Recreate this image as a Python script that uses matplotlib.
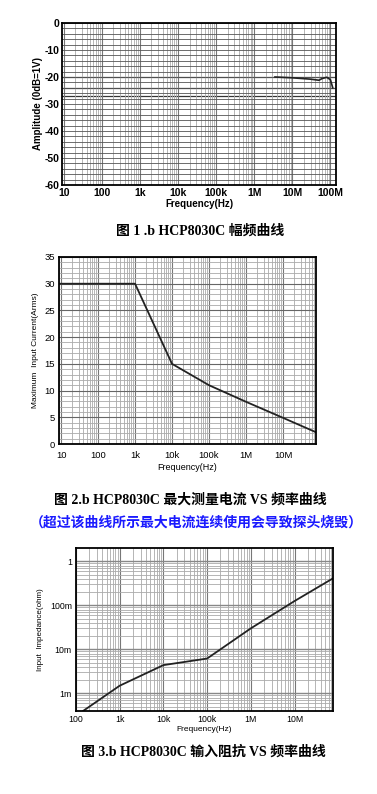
import numpy as np
import matplotlib.pyplot as plt
from matplotlib.ticker import FixedLocator, NullFormatter, MultipleLocator

plt.rcParams['font.family'] = ['Liberation Sans', 'DejaVu Sans']
plt.rcParams['axes.unicode_minus'] = False

# Figure 1: amplitude vs frequency
amp_freq = [3.5e6, 1e7, 3e7, 5e7, 6e7, 8e7, 1e8, 1.15e8]
amp_db = [-20.0, -20.3, -20.8, -21.2, -20.6, -20.1, -21.0, -24.0]

# Figure 2: max input current vs frequency
cur_freq = [8.8, 1e3, 1e4, 1e5, 1e6, 1e7, 7.8e7]
cur_arms = [30, 30, 15, 11.0, 7.9, 4.9, 2.2]

# Figure 3: input impedance vs frequency
imp_freq = [145, 1e3, 1e4, 1e5, 1e6, 1e7, 7.6e7]
imp_ohm = [4.0e-4, 1.5e-3, 4.4e-3, 6.2e-3, 3.0e-2, 1.25e-1, 4.1e-1]

freq_ticks = [10, 100, 1e3, 1e4, 1e5, 1e6, 1e7, 1e8]
freq_labels = ['10', '100', '1k', '10k', '100k', '1M', '10M', '100M']

W, H = 377, 794
fig = plt.figure(figsize=(W / 100, H / 100), dpi=100)


def box(l, t, r, b):
    return fig.add_axes([l / W, (H - b) / H, (r - l) / W, (b - t) / H])


def log_grid(ax, lo, hi):
    minors = [m * 10.0 ** e for e in range(0, 9) for m in range(2, 10)]
    ax.xaxis.set_minor_locator(FixedLocator([v for v in minors if lo < v < hi]))
    ax.xaxis.set_minor_formatter(NullFormatter())
    ax.grid(True, which='major', axis='x', color='#777777', lw=0.8)
    ax.grid(True, which='minor', axis='x', color='#aaaaaa', lw=0.6)
    ax.tick_params(which='both', length=0, pad=3)
    for s in ax.spines.values():
        s.set_linewidth(1.3)


title_font = ['Liberation Serif', 'Noto Sans CJK SC']

# ---- chart 1
ax1 = box(62, 23, 336, 185)
ax1.plot(amp_freq, amp_db, color='#222222', lw=1.2)
ax1.set_xscale('log')
ax1.set_xlim(9, 1.4e8)
ax1.set_ylim(-60, 0)
ax1.set_xticks(freq_ticks)
ax1.set_xticklabels(freq_labels)
ax1.yaxis.set_major_locator(MultipleLocator(10))
ax1.yaxis.set_minor_locator(MultipleLocator(2))
log_grid(ax1, 9, 1.4e8)
ax1.grid(True, which='both', axis='y', color='#555555', lw=0.6)
for yv in [-20, -24, -27]:
    ax1.axhline(yv, color='#333333', lw=0.9, zorder=1)
ax1.tick_params(labelsize=7.5, pad=2)
for lab in ax1.get_xticklabels() + ax1.get_yticklabels():
    lab.set_fontweight('bold')
ax1.set_xlabel('Frequency(Hz)', fontsize=7, fontweight='bold', labelpad=1)
ax1.set_ylabel('Amplitude (0dB=1V)', fontsize=7, fontweight='bold', labelpad=1)
fig.text(200 / W, 1 - 231 / H, '图 1 .b HCP8030C 幅频曲线', ha='center', va='center',
         fontsize=10, fontweight='bold', family=title_font)

# ---- chart 2
ax2 = box(59, 257, 316, 444)
ax2.plot(cur_freq, cur_arms, color='#222222', lw=1.3)
ax2.set_xscale('log')
ax2.set_xlim(8.8, 7.8e7)
ax2.set_ylim(0, 35)
ax2.set_xticks(freq_ticks[:-1])
ax2.set_xticklabels(freq_labels[:-1])
ax2.yaxis.set_major_locator(MultipleLocator(5))
ax2.yaxis.set_minor_locator(MultipleLocator(1))
log_grid(ax2, 8.8, 7.8e7)
ax2.grid(True, which='major', axis='y', color='#666666', lw=0.8)
ax2.grid(True, which='minor', axis='y', color='#aaaaaa', lw=0.6)
ax2.tick_params(labelsize=6.8)
ax2.tick_params(axis='x', pad=5)
ax2.set_xlabel('Frequency(Hz)', fontsize=6.5, labelpad=2)
ax2.set_ylabel('Maximum  Input Current(Arms)', fontsize=6, labelpad=4)
fig.text(190 / W, 1 - 500 / H, '图 2.b HCP8030C 最大测量电流 VS 频率曲线', ha='center',
         va='center', fontsize=10, fontweight='bold', family=title_font)
fig.text(196 / W, 1 - 523 / H, '（超过该曲线所示最大电流连续使用会导致探头烧毁）', ha='center',
         va='center', fontsize=10, fontweight='bold', color='#1a1aff', family=title_font)

# ---- chart 3
ax3 = box(76, 548, 333, 711)
ax3.plot(imp_freq, imp_ohm, color='#222222', lw=1.3)
ax3.set_xscale('log')
ax3.set_yscale('log')
ax3.set_xlim(100, 7.6e7)
ax3.set_ylim(4e-4, 2)
ax3.set_xticks(freq_ticks[1:-1])
ax3.set_xticklabels(freq_labels[1:-1])
ax3.set_yticks([1e-3, 1e-2, 1e-1, 1])
ax3.set_yticklabels(['1m', '10m', '100m', '1'])
yminors = [m * 10.0 ** e for e in range(-4, 1) for m in range(2, 10)]
ax3.yaxis.set_minor_locator(FixedLocator([v for v in yminors if 4e-4 < v < 2]))
ax3.yaxis.set_minor_formatter(NullFormatter())
log_grid(ax3, 100, 7.6e7)
ax3.grid(True, which='major', axis='y', color='#888888', lw=1.0)
ax3.grid(True, which='minor', axis='y', color='#aaaaaa', lw=0.6)
ax3.tick_params(labelsize=6.3)
ax3.set_xlabel('Frequency(Hz)', fontsize=6, labelpad=1)
ax3.set_ylabel('Input  Impedance(ohm)', fontsize=5.8, labelpad=4)
fig.text(203 / W, 1 - 752 / H, '图 3.b HCP8030C 输入阻抗 VS 频率曲线', ha='center',
         va='center', fontsize=10, fontweight='bold', family=title_font)

fig.savefig('out.png', dpi=100)
